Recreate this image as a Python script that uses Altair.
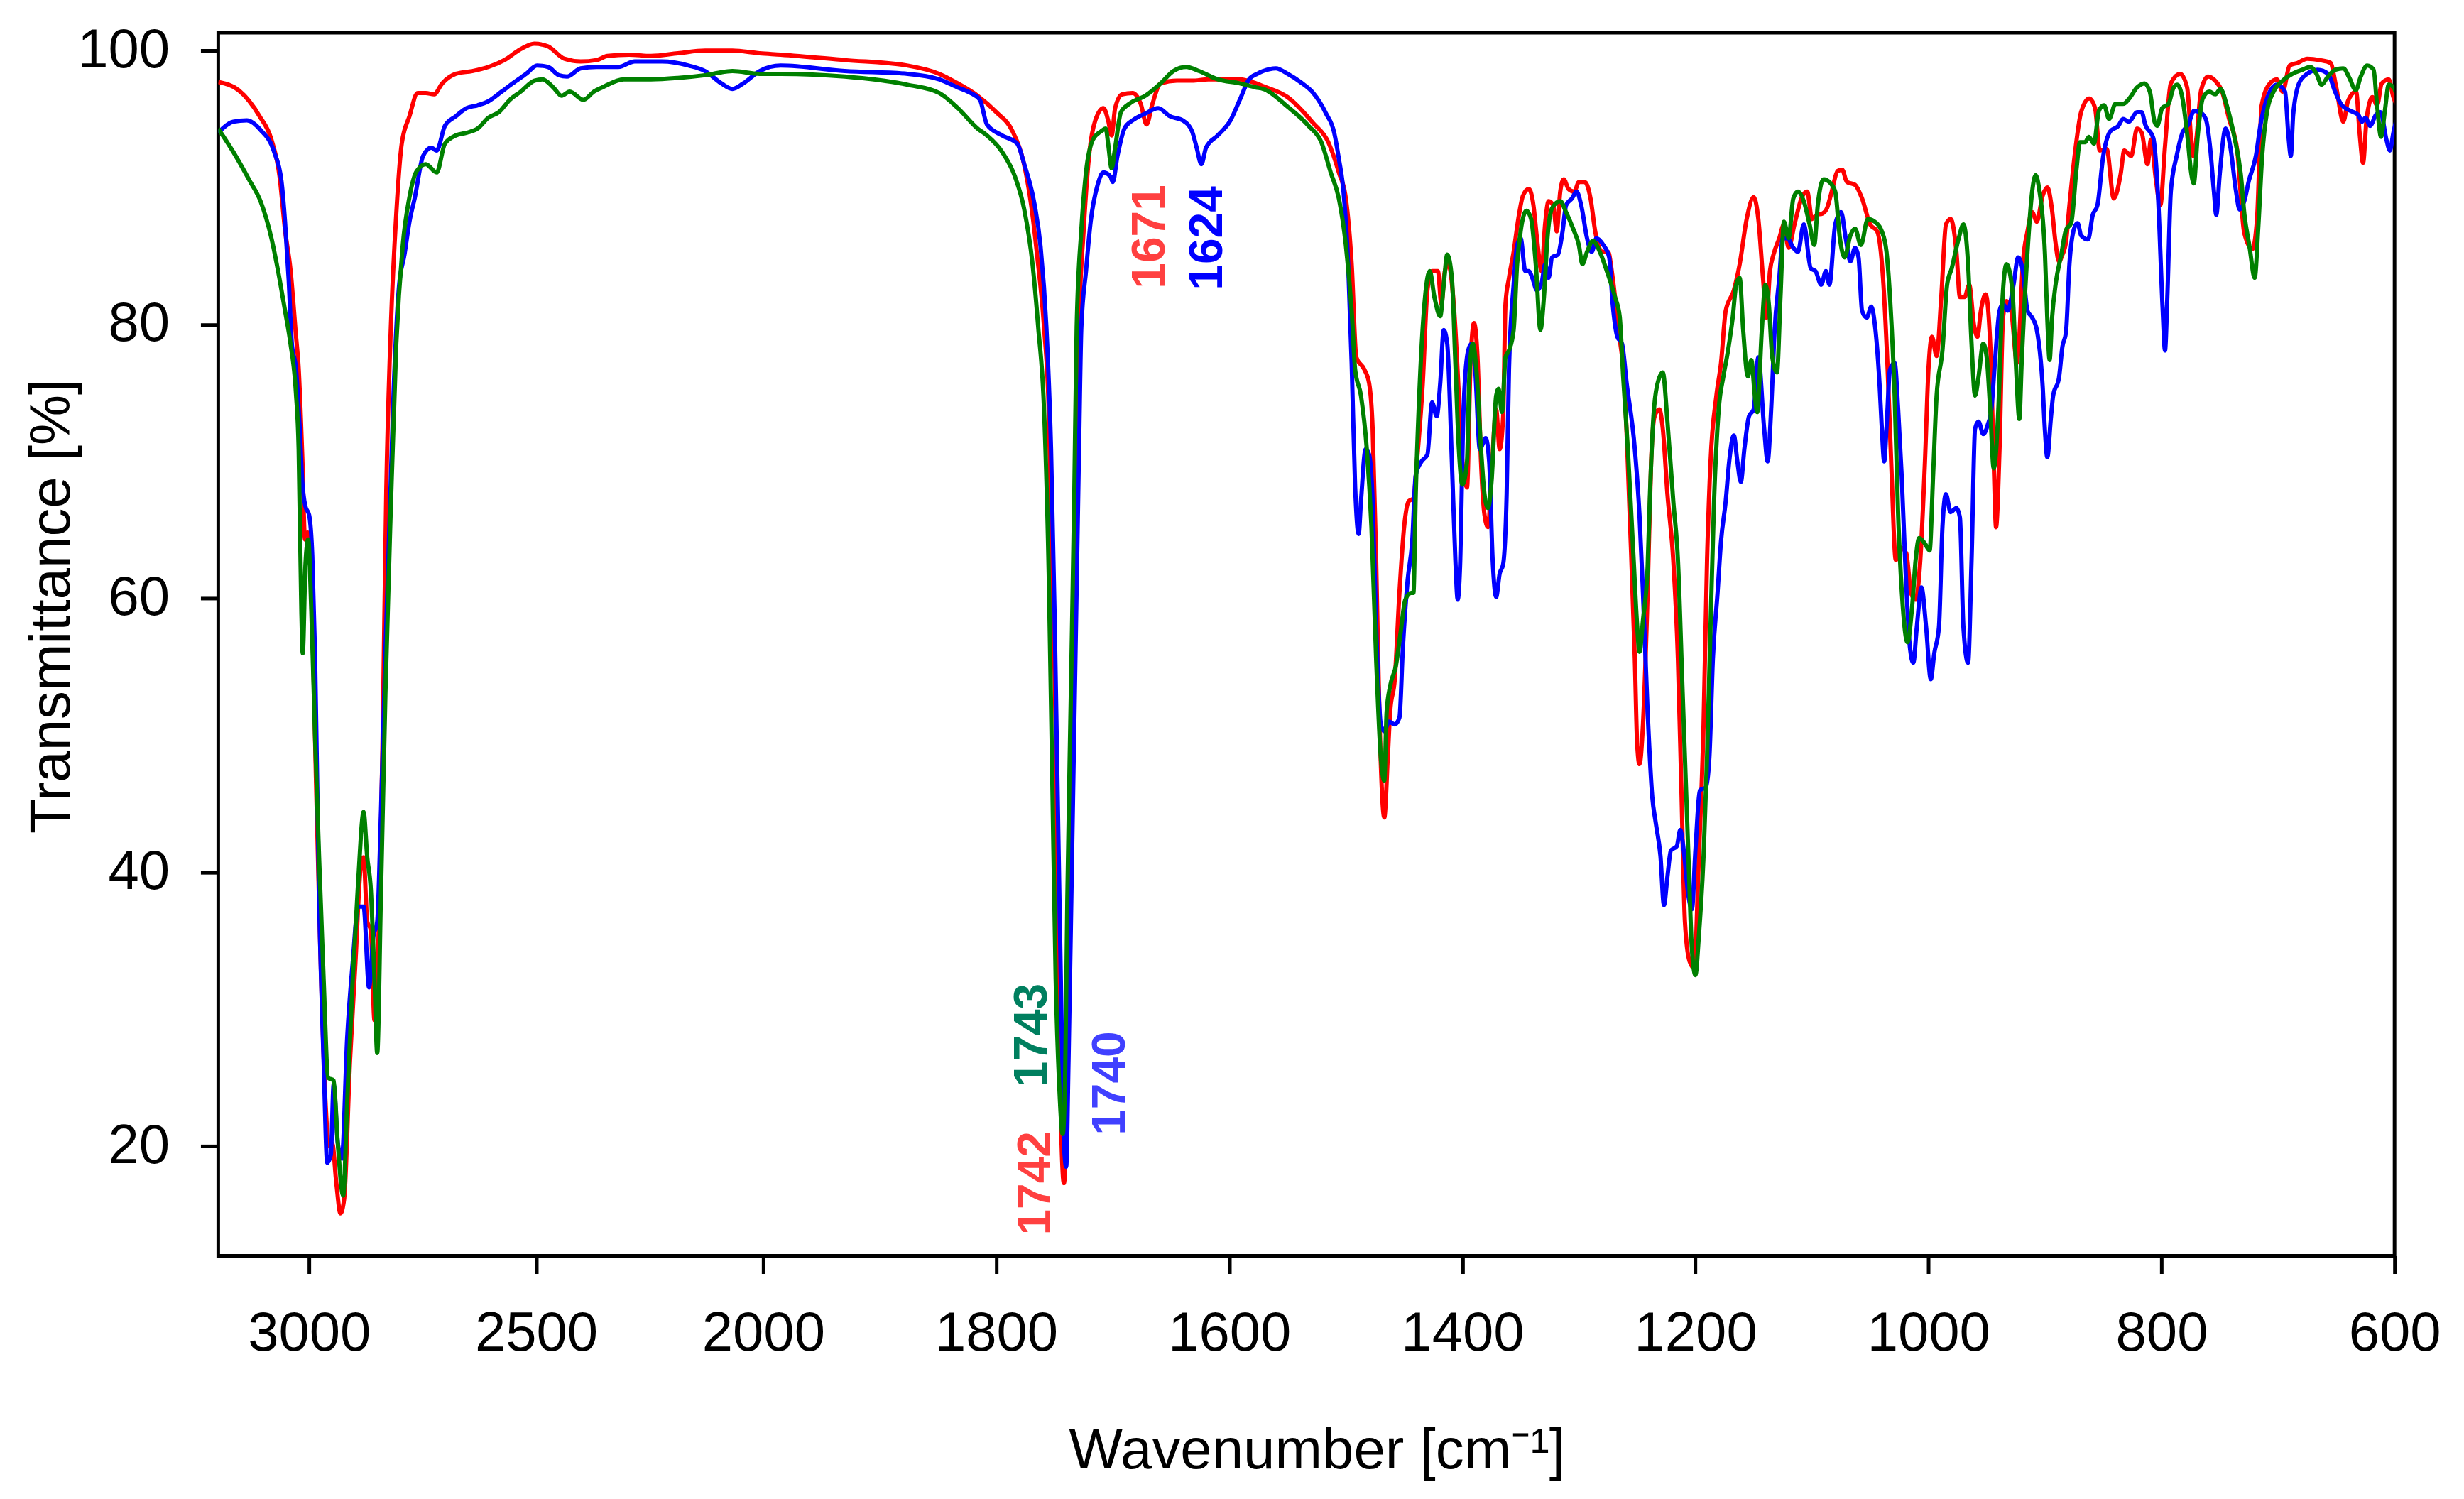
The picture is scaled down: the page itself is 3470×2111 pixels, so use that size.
import altair as alt
import pandas as pd

# ---------------- data ----------------
red_wn = [3200, 3155, 3109, 3083, 3065, 3053, 3041, 3029, 3023, 3015, 3009, 3003, 2993, 2985, 2976, 2964, 2956, 2949, 2940, 2931,
          2923, 2910, 2898, 2886, 2880, 2872, 2864, 2856, 2850, 2838, 2830, 2820, 2808, 2796, 2779, 2761, 2743, 2725, 2707, 2677,
          2641, 2605, 2570, 2534, 2504, 2474, 2438, 2402, 2367, 2343, 2295, 2247, 2188, 2128, 2068, 2008,
          1985, 1930, 1876, 1849, 1833, 1816, 1800, 1786, 1777, 1770, 1765, 1759, 1755, 1752, 1749, 1747, 1744, 1742, 1740, 1738,
          1735, 1732, 1729, 1725, 1720, 1715, 1708, 1704, 1701, 1698, 1692, 1683, 1676, 1671, 1666, 1659, 1645, 1632, 1618, 1605,
          1591, 1577,
          1571, 1550, 1528, 1515, 1506, 1500, 1495, 1491, 1484, 1480, 1477, 1474, 1471, 1467, 1464, 1462, 1458, 1454, 1450, 1446,
          1442, 1439, 1434, 1430, 1426, 1421, 1418, 1415, 1412, 1407, 1403, 1400, 1396, 1393, 1390, 1387, 1384, 1381, 1378, 1375,
          1371, 1368, 1365, 1363, 1360, 1356, 1352, 1348, 1343, 1339, 1336, 1332, 1329, 1326, 1322, 1319, 1316, 1313, 1309, 1304,
          1300, 1295, 1290, 1286, 1280, 1275, 1271, 1266, 1261, 1256, 1252, 1250, 1248, 1245, 1241, 1238, 1235,
          1231, 1228, 1224, 1219, 1215, 1212, 1209, 1205, 1201, 1197, 1193, 1190, 1187, 1182, 1178, 1174, 1167, 1162, 1156, 1150,
          1146, 1142, 1139, 1136, 1133, 1128, 1124, 1120, 1115, 1109, 1104, 1100, 1096, 1091, 1087, 1083, 1078, 1074, 1070, 1063,
          1057, 1050, 1044, 1039, 1035, 1032, 1028, 1024, 1019, 1015, 1011, 1007, 1003, 1000, 997, 993, 989, 985, 981, 976,
          973, 969, 965, 961, 958, 955, 951, 947, 944, 942, 939, 936, 933, 929, 924, 922, 919, 915, 911, 907,
          902, 898, 894, 891, 888, 885, 882, 879, 874, 869, 862, 857, 853, 847, 841, 835, 832, 826, 821, 817,
          812, 809, 805, 801, 797, 792, 784, 778, 773, 770, 766, 760, 754, 748, 742, 735, 729, 722, 718, 714,
          707, 701, 696, 690, 683, 675, 664, 655, 650, 644, 640, 633, 630, 627, 624, 619, 615, 611, 605, 601, 598.5]
red_t = [97.7, 97.1, 95.2, 93.5, 90.8, 86.9, 84.0, 79.2, 76.8, 70.3, 64.3, 64.8, 58.4, 47.0, 35.2, 23.3, 20.0, 20.2, 17.3, 15.1,
         16.1, 26.2, 33.4, 40.5, 41.1, 36.4, 35.8, 29.2, 32.2, 50.0, 67.9, 79.8, 88.1, 93.2, 95.2, 96.9, 96.9, 96.8, 97.6, 98.3,
         98.5, 98.8, 99.3, 100.1, 100.5, 100.3, 99.4, 99.2, 99.3, 99.6, 99.7, 99.6, 99.8, 100.0, 100.0, 99.8,
         99.7, 99.3, 98.9, 98.3, 97.6, 96.7, 95.5, 94.1, 92.0, 88.7, 85.1, 79.8, 73.8, 61.9, 50.0, 35.2, 20.3, 17.3, 20.9, 35.2,
         50.0, 64.9, 79.8, 86.9, 92.6, 94.9, 95.8, 94.9, 93.8, 95.8, 96.8, 96.9, 96.1, 94.6, 96.1, 97.6, 97.8, 97.8, 97.9, 97.9,
         97.9, 97.6,
         97.4, 96.6, 94.7, 93.3, 91.1, 89.2, 84.4, 77.6, 76.7, 75.7, 72.4, 62.8, 50.8, 44.0, 48.4, 51.7, 54.1, 60.4, 65.2, 67.1,
         67.3, 70.0, 75.7, 82.5, 83.9, 83.9, 81.5, 83.9, 84.4, 81.0, 74.8, 70.0, 68.1, 77.2, 80.1, 77.6, 70.0, 66.1, 65.2, 69.0,
         73.8, 70.9, 73.3, 81.5, 83.4, 85.3, 87.7, 89.4, 89.9, 88.7, 86.3, 83.9, 87.3, 89.0, 88.7, 86.8, 89.7, 90.6, 89.9, 89.7,
         90.4, 90.4, 89.2, 86.8, 85.3, 85.3, 83.4, 79.6, 75.7, 65.2, 55.6, 49.4, 47.9, 50.8, 60.4, 70.0, 73.3,
         73.8, 72.4, 67.6, 62.8, 55.6, 46.0, 36.4, 33.5, 33.0, 41.2, 50.8, 62.8, 70.0, 74.8, 77.2, 81.0, 82.5, 84.4, 87.7, 89.3,
         87.7, 83.4, 80.5, 83.9, 85.1, 86.3, 87.3, 85.6, 87.3, 89.2, 89.7, 87.7, 88.0, 88.1, 88.5, 89.7, 91.2, 91.3, 90.4, 90.2,
         89.2, 87.3, 86.8, 83.4, 76.7, 70.0, 62.8, 63.7, 63.3, 60.4, 59.9, 62.8, 70.0, 76.7, 79.1, 77.7, 82.0, 87.3, 87.7, 85.3,
         82.0, 82.0, 82.9, 80.0, 79.1, 81.0, 82.2, 78.6, 70.0, 65.2, 70.9, 80.5, 81.7, 81.0, 77.2, 79.1, 84.4, 86.8, 88.2, 87.5,
         89.4, 90.0, 88.4, 86.0, 84.6, 85.1, 86.0, 88.7, 92.7, 95.5, 96.5, 95.8, 92.7, 92.8, 89.2, 91.0, 92.7, 92.3, 94.3, 94.0,
         91.7, 93.5, 90.7, 88.7, 93.0, 97.6, 98.3, 97.3, 92.3, 93.6, 97.1, 98.1, 97.8, 97.0, 95.0, 92.7, 86.7, 85.5, 87.7, 96.0,
         97.6, 97.9, 97.0, 98.9, 99.1, 99.4, 99.3, 99.1, 97.3, 94.8, 96.3, 97.0, 94.0, 91.8, 95.0, 96.6, 96.0, 97.6, 97.9, 96.6, 96.1]

blue_wn = [3200, 3167, 3137, 3107, 3077, 3061, 3053, 3045, 3038, 3029, 3021, 3015, 3008, 3000, 2993, 2987, 2978, 2968, 2960, 2952,
           2946, 2937, 2928, 2916, 2904, 2892, 2880, 2868, 2859, 2850, 2842, 2832, 2823, 2814, 2802, 2790, 2779, 2767, 2749, 2731,
           2719, 2701, 2677, 2653, 2629, 2605, 2576, 2552, 2522, 2498, 2474, 2450, 2432, 2402, 2367, 2319, 2283, 2223, 2164, 2128,
           2092, 2068, 2044, 2008,
           1985, 1930, 1876, 1849, 1833, 1822, 1814, 1808, 1795, 1782, 1776, 1767, 1762, 1757, 1753, 1750, 1747, 1744, 1742, 1740,
           1738, 1735, 1732, 1729, 1727, 1723, 1719, 1713, 1708, 1702, 1700, 1696, 1690, 1683, 1672, 1661, 1651, 1640, 1632, 1628,
           1624, 1620, 1610, 1599, 1591, 1583, 1576,
           1571, 1560, 1550, 1539, 1528, 1517, 1510, 1506, 1502, 1498, 1495, 1492, 1489, 1487, 1483, 1480, 1477, 1474, 1470, 1467,
           1463, 1458, 1454, 1451, 1447, 1443, 1440, 1435, 1430, 1426, 1422, 1419, 1416, 1413, 1409, 1406, 1404, 1402, 1399, 1395,
           1392, 1389, 1385, 1380, 1377, 1374, 1371, 1368, 1365, 1362, 1360, 1356, 1353, 1350, 1346, 1343, 1340, 1336, 1332, 1329,
           1326, 1323, 1318, 1314, 1311, 1306, 1302, 1298, 1293, 1289, 1285, 1279, 1274, 1271, 1267, 1263, 1259, 1252, 1248, 1245,
           1241, 1237, 1234,
           1230, 1227, 1224, 1221, 1216, 1213, 1210, 1206, 1203, 1200, 1196, 1191, 1188, 1185, 1181, 1178, 1174, 1171, 1167, 1164,
           1161, 1158, 1154, 1150, 1146, 1141, 1138, 1135, 1132, 1128, 1125, 1121, 1116, 1112, 1107, 1101, 1097, 1092, 1088, 1085,
           1080, 1075, 1071, 1067, 1063, 1060, 1057, 1053, 1049, 1046, 1042, 1040, 1038, 1036, 1033, 1029, 1026, 1023, 1020, 1016,
           1013, 1010, 1006, 1002, 998, 995, 991, 988, 985, 981, 976, 973, 970, 966, 963, 960, 957, 953, 949, 946,
           943, 939, 936, 932, 927, 923, 919, 915, 911, 907,
           902, 900, 898, 895, 893, 888, 885, 882, 879, 875, 872, 869, 863, 859, 855, 850, 844, 837, 833, 828,
           821, 817, 814, 807, 803, 799, 797, 795, 792, 787, 782, 777, 772, 767, 762, 758, 755, 753, 750, 745,
           741, 736, 733, 729, 725, 719, 715, 709, 701, 694, 691, 689, 687, 682, 675, 666, 657, 651, 646, 638,
           631, 628, 625, 621, 616, 612, 607, 604, 601, 598.5]
blue_t = [94.0, 94.8, 94.9, 94.2, 92.6, 90.5, 87.5, 83.3, 78.6, 76.8, 72.6, 68.5, 66.7, 66.1, 63.1, 56.0, 38.1, 26.2, 18.8, 19.4,
          24.5, 20.3, 19.1, 28.0, 33.4, 37.5, 37.5, 31.6, 35.2, 36.4, 44.1, 56.0, 65.5, 75.0, 82.8, 85.1, 87.5, 89.3, 92.3, 92.9,
          92.7, 94.5, 95.2, 95.8, 96.0, 96.3, 97.0, 97.6, 98.3, 98.9, 98.8, 98.2, 98.1, 98.7, 98.8, 98.8, 99.2, 99.2, 98.9, 98.5,
          97.6, 97.2, 97.6, 98.5,
          98.9, 98.5, 98.3, 97.9, 97.3, 96.9, 96.4, 94.6, 93.8, 93.2, 91.7, 88.7, 85.7, 79.8, 70.9, 59.0, 44.1, 29.2, 20.3, 18.5,
          26.2, 41.1, 56.0, 70.9, 79.8, 83.9, 87.5, 90.2, 91.1, 90.8, 90.4, 92.3, 94.3, 94.9, 95.4, 95.8, 95.2, 94.9, 94.1, 92.9,
          91.7, 92.9, 93.8, 94.9, 96.4, 97.9, 98.3,
          98.5, 98.7, 98.3, 97.7, 96.9, 95.4, 94.0, 92.1, 89.7, 84.4, 77.2, 68.1, 64.7, 67.1, 70.9, 70.5, 67.1, 58.0, 50.8, 50.3,
          51.0, 50.8, 51.3, 56.5, 61.3, 64.2, 69.0, 70.0, 70.5, 74.3, 73.3, 75.7, 79.6, 78.6, 70.0, 62.8, 59.9, 62.3, 73.8, 78.1,
          78.6, 76.7, 70.9, 71.7, 70.0, 62.8, 60.1, 61.8, 62.5, 67.6, 76.7, 82.9, 85.8, 86.3, 83.9, 83.9, 83.4, 82.5, 83.0, 84.4,
          83.4, 84.9, 85.1, 86.8, 88.7, 89.2, 89.7, 88.7, 86.3, 85.3, 86.3, 85.8, 84.9, 81.5, 79.1, 78.6, 75.7, 70.9, 66.1, 60.4,
          51.7, 45.5, 43.6,
          41.2, 37.6, 39.7, 41.6, 41.9, 43.1, 41.6, 38.3, 37.3, 41.6, 46.0, 46.2, 48.4, 55.6, 60.4, 64.2, 67.1, 70.0, 71.9, 70.0,
          68.5, 70.9, 73.3, 73.8, 77.6, 72.4, 70.0, 73.8, 79.6, 83.4, 86.3, 86.3, 85.6, 85.3, 87.3, 84.1, 83.9, 82.9, 83.9, 82.9,
          87.3, 88.2, 86.3, 84.6, 85.6, 84.9, 81.0, 80.5, 81.3, 80.0, 75.7, 72.4, 70.0, 72.4, 76.7, 77.2, 73.8, 69.0, 62.8, 56.5,
          55.3, 57.9, 60.8, 57.9, 54.1, 56.0, 57.9, 65.2, 67.6, 66.3, 66.6, 65.9, 57.9, 55.3, 62.8, 72.4, 72.9, 72.0, 72.7, 73.8,
          77.2, 81.0, 81.5, 81.0, 82.9, 84.9, 83.9, 81.0, 80.5, 79.6,
          75.5, 72.2, 70.3, 73.1, 74.8, 76.1, 78.4, 79.4, 84.4, 87.0, 87.4, 86.5, 86.2, 88.0, 88.7, 92.3, 94.1, 94.5, 95.0, 94.8,
          95.5, 95.5, 94.6, 93.6, 89.4, 81.1, 78.1, 82.0, 89.7, 92.3, 94.0, 94.6, 95.6, 95.5, 95.0, 92.7, 89.7, 88.0, 91.0, 94.3,
          93.0, 89.7, 88.4, 89.0, 90.5, 92.3, 94.6, 96.6, 97.5, 97.0, 93.7, 92.3, 95.3, 97.6, 98.3, 98.6, 98.3, 97.0, 96.1, 95.6,
          95.3, 94.8, 95.1, 94.5, 95.3, 95.5, 93.5, 92.7, 94.0, 94.9]

green_wn = [3200, 3167, 3131, 3107, 3083, 3065, 3053, 3041, 3029, 3023, 3017, 3014, 3008, 3002, 2995, 2987, 2978, 2968, 2958, 2946,
            2937, 2925, 2916, 2904, 2892, 2880, 2872, 2864, 2856, 2850, 2842, 2832, 2820, 2808, 2794, 2779, 2763, 2743, 2719, 2701,
            2677, 2653, 2629, 2605, 2582, 2558, 2534, 2504, 2486, 2462, 2444, 2426, 2396, 2373, 2355, 2307, 2247, 2188, 2128, 2068,
            2008,
            1985, 1930, 1876, 1849, 1833, 1816, 1808, 1795, 1784, 1776, 1769, 1764, 1759, 1755, 1752, 1749, 1746, 1743, 1741, 1739,
            1736, 1733, 1731, 1727, 1723, 1717, 1710, 1706, 1704, 1701, 1698, 1693, 1686, 1672, 1659, 1648, 1637, 1626, 1610, 1591,
            1577,
            1571, 1550, 1532, 1521, 1513, 1506, 1500, 1495, 1492, 1487, 1482, 1478, 1474, 1470, 1467, 1465, 1462, 1457, 1453, 1449,
            1444, 1442, 1440, 1437, 1432, 1428, 1424, 1419, 1416, 1413, 1409, 1406, 1403, 1400, 1396, 1394, 1391, 1388, 1384, 1381,
            1378, 1375, 1371, 1369, 1366, 1363, 1360, 1356, 1353, 1350, 1345, 1341, 1337, 1333, 1330, 1327, 1323, 1316, 1311, 1305,
            1300, 1297, 1293, 1288, 1282, 1276, 1269, 1265, 1262, 1258, 1253, 1250, 1248, 1245, 1241, 1239, 1236, 1233,
            1228, 1224, 1219, 1215, 1211, 1206, 1203, 1200, 1197, 1193, 1190, 1187, 1184, 1180, 1176, 1172, 1168, 1165, 1162, 1159,
            1155, 1152, 1149, 1147, 1143, 1140, 1137, 1134, 1130, 1127, 1124, 1120, 1116, 1112, 1107, 1102, 1098, 1095, 1090, 1085,
            1080, 1076, 1072, 1067, 1063, 1058, 1052, 1046, 1040, 1036, 1033, 1029, 1026, 1022, 1018, 1014, 1011, 1008, 1003, 999,
            996, 993, 988, 984, 980, 974, 970, 966, 963, 960, 957, 953, 950, 947, 944, 940, 937, 933, 928, 925,
            922, 920, 915, 911, 908, 905,
            900, 898, 896, 894, 890.6, 886, 882, 877.5, 873, 870, 865.6, 862.3, 858, 853.7, 849.3, 845, 839.5, 833, 827.6, 821,
            814.6, 810, 806, 803.7, 799.4, 794, 789.6, 786.4, 782, 777.7, 774.4, 772.3, 769, 764.6, 759, 753.8, 749.4, 744, 737.5, 732,
            728.8, 724.5, 720, 717, 713.6, 709.3, 703.8, 696, 687.6, 679, 672.4, 667, 662.6, 657.2, 650.7, 644, 638.7, 633.3, 629, 623.5,
            618, 615, 611.6, 608.3, 605, 600.7, 598.5]
green_t = [94.3, 92.6, 90.5, 89.0, 86.3, 83.3, 81.0, 78.6, 75.0, 70.9, 59.0, 56.0, 62.5, 64.3, 59.0, 50.0, 41.1, 32.2, 25.0, 24.8,
           20.3, 16.4, 23.3, 32.2, 39.3, 44.4, 41.1, 38.7, 32.2, 26.8, 38.1, 53.0, 66.7, 78.6, 85.7, 89.3, 91.2, 91.7, 91.1, 93.2,
           93.8, 94.0, 94.3, 95.1, 95.5, 96.4, 97.0, 97.8, 97.9, 97.3, 96.7, 97.0, 96.4, 97.0, 97.3, 97.9, 97.9, 98.0, 98.2, 98.5,
           98.3,
           98.3, 98.1, 97.5, 96.9, 95.8, 94.3, 93.8, 92.6, 90.8, 88.4, 84.5, 79.8, 73.8, 61.9, 47.1, 32.2, 24.5, 20.9, 24.5, 38.1,
           53.0, 67.9, 79.8, 86.9, 91.1, 93.5, 94.1, 94.3, 93.2, 91.4, 92.9, 95.5, 96.1, 96.7, 97.6, 98.5, 98.8, 98.5, 97.9, 97.6,
           97.3,
           97.2, 95.9, 94.5, 93.3, 91.1, 89.2, 85.8, 81.0, 76.7, 74.8, 70.9, 65.2, 55.6, 48.4, 46.7, 51.7, 53.6, 55.1, 57.5, 59.9,
           60.4, 60.4, 67.6, 74.8, 82.0, 83.9, 82.0, 80.6, 82.9, 85.1, 83.4, 77.2, 70.9, 68.3, 70.0, 76.2, 78.6, 76.7, 70.9, 67.6,
           66.6, 68.5, 74.8, 75.3, 73.6, 77.6, 78.1, 79.6, 84.4, 86.8, 88.3, 87.7, 84.4, 79.6, 82.0, 86.3, 88.5, 89.0, 88.2, 87.0,
           85.8, 84.4, 85.3, 86.1, 85.3, 83.9, 82.0, 80.6, 76.2, 70.9, 62.8, 58.0, 56.1, 58.4, 62.3, 67.6, 73.3, 75.5,
           76.5, 72.9, 67.1, 62.8, 53.2, 41.2, 34.4, 32.5, 35.4, 41.2, 48.4, 58.0, 67.1, 73.8, 76.2, 78.1, 80.5, 82.9, 83.4, 79.6,
           76.2, 77.4, 74.8, 73.6, 79.6, 82.9, 81.5, 77.6, 76.5, 82.0, 87.5, 86.3, 89.2, 89.7, 89.0, 87.3, 85.8, 88.7, 90.6, 90.4,
           89.7, 86.3, 84.9, 86.5, 87.0, 85.8, 87.7, 87.5, 86.8, 85.3, 82.0, 74.8, 66.1, 59.4, 56.8, 59.4, 62.8, 64.4, 64.0, 63.5,
           69.0, 74.8, 78.1, 82.9, 84.1, 86.3, 87.3, 84.4, 78.6, 74.8, 76.2, 78.6, 77.6, 73.8, 69.5, 73.8, 81.0, 84.4, 82.5, 77.2,
           73.1, 77.2, 85.3, 89.7, 90.9, 89.9,
           85.1, 80.4, 77.4, 80.4, 83.1, 85.1, 86.9, 87.4, 91.3, 93.3, 93.3, 93.7, 93.2, 95.6, 96.0, 95.0, 96.1, 96.1, 96.5, 97.3,
           97.6, 97.0, 94.8, 94.5, 95.8, 96.1, 97.3, 97.5, 96.5, 93.7, 91.0, 90.3, 93.7, 96.5, 97.0, 96.8, 97.2, 96.0, 93.7, 91.0,
           88.0, 85.7, 83.4, 87.0, 92.3, 95.6, 97.0, 97.8, 98.3, 98.6, 98.8, 98.3, 97.5, 98.1, 98.6, 98.7, 98.0, 97.1, 98.1, 98.9,
           98.6, 96.0, 93.7, 95.6, 97.5, 97.3, 96.8]

label_text = ["1742", "1743", "1740", "1671", "1624"]
label_wn = [1765.7, 1768.8, 1701.9, 1667.8, 1618.6]
label_t = [17.3, 28.1, 24.6, 86.4, 86.3]
label_color = ["#FF4040", "#007F5F", "#4040FF", "#FF4040", "#0000FF"]

x_ticks = [3000, 2500, 2000, 1800, 1600, 1400, 1200, 1000, 800, 600]
y_ticks = [20, 40, 60, 80, 100]

# ---------------- chart ----------------
W, H = 3071, 1726
FONT = "Liberation Sans"

xscale = alt.Scale(domain=[3200, 2000, 600], range=[0, 769, W], nice=False, zero=False)
yscale = alt.Scale(domain=[12, 101.3], nice=False, zero=False)

xaxis = alt.Axis(values=x_ticks, format="d", title="Wavenumber [cm\u207b\u00b9]", grid=False, domain=False,
                 tickSize=25, tickWidth=5, tickColor="black", labelFontSize=78, labelColor="black",
                 labelPadding=46, labelFont=FONT, labelFlush=False, labelOverlap=False,
                 titleFont=FONT, titleFontSize=80, titleFontWeight="normal", titleColor="black",
                 titleX=1550, titleY=300, titleBaseline="alphabetic", titleAlign="center")
yaxis = alt.Axis(values=y_ticks, format="d", title="Transmittance [%]", grid=False, domain=False,
                 tickSize=25, tickWidth=5, tickColor="black", labelFontSize=78, labelColor="black",
                 labelPadding=44, labelFont=FONT, labelFlush=False, labelOverlap=False,
                 titleFont=FONT, titleFontSize=80, titleFontWeight="normal", titleColor="black",
                 titleX=-210, titleY=809, titleAngle=270, titleBaseline="alphabetic", titleAlign="center")


def line_layer(wn, t, color):
    df = pd.DataFrame({"wn": wn, "t": t}).drop_duplicates("wn")
    return alt.Chart(df).mark_line(color=color, strokeWidth=6, clip=True, strokeJoin="round",
                                   interpolate="monotone").encode(
        x=alt.X("wn:Q", scale=xscale, axis=xaxis),
        y=alt.Y("t:Q", scale=yscale, axis=yaxis),
        order=alt.Order("wn:Q", sort="descending"),
    )


red = line_layer(red_wn, red_t, "#FF0000")
blue = line_layer(blue_wn, blue_t, "#0000FF")
green = line_layer(green_wn, green_t, "#008000")

labels_df = pd.DataFrame({"wn": label_wn, "t": label_t, "label": label_text})
labels = alt.Chart(labels_df).mark_text(angle=270, font=FONT, fontWeight="bold", fontSize=66,
                                        align="center", baseline="middle").encode(
    x=alt.X("wn:Q", scale=xscale, axis=xaxis),
    y=alt.Y("t:Q", scale=yscale, axis=yaxis),
    text="label:N",
    color=alt.Color("label:N", scale=alt.Scale(domain=label_text, range=label_color), legend=None),
)

chart = alt.layer(red, blue, green, labels).properties(
    width=W, height=H,
    autosize=alt.AutoSizeParams(type="none"),
    padding={"left": 300, "top": 36, "right": 90, "bottom": 340},
).configure(font=FONT).configure_view(stroke="black", strokeWidth=5)

chart.save("out.html", embed_options={"renderer": "svg", "actions": False})
